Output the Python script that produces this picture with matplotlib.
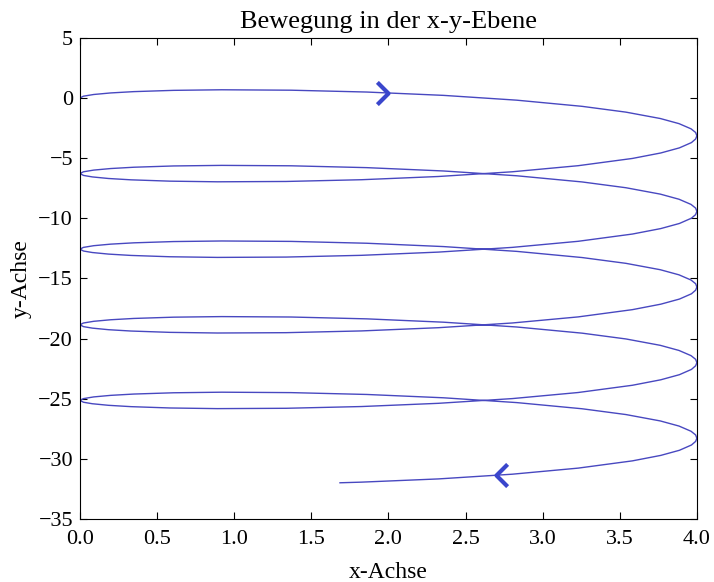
import matplotlib
matplotlib.use("Agg")
from matplotlib import pyplot as plt
from matplotlib.path import Path

# x values of one loop (same for every loop)
x_loop = [0.000, 0.022, 0.089, 0.199, 0.349, 0.607, 0.919, 1.369, 1.859, 2.357,
          2.832, 3.256, 3.540, 3.763, 3.884, 3.962, 3.992, 4.000, 3.992, 3.965,
          3.887, 3.766, 3.582, 3.230, 2.803, 2.324, 1.825, 1.336, 0.891, 0.583,
          0.331, 0.185, 0.080, 0.023]

y_loop1 = [0.000, 0.149, 0.291, 0.420, 0.529, 0.635, 0.683, 0.648, 0.495, 0.218,
           -0.181, -0.694, -1.175, -1.706, -2.130, -2.561, -2.867, -3.142, -3.407, -3.705,
           -4.144, -4.569, -5.024, -5.627, -6.132, -6.524, -6.792, -6.937, -6.965, -6.911,
           -6.801, -6.690, -6.559, -6.435]
y_loop2 = [-6.283, -6.134, -5.992, -5.863, -5.754, -5.648, -5.600, -5.635, -5.788, -6.065,
           -6.464, -6.977, -7.458, -7.989, -8.413, -8.844, -9.150, -9.425, -9.690, -9.988,
           -10.427, -10.852, -11.307, -11.910, -12.415, -12.807, -13.075, -13.220, -13.248, -13.194,
           -13.084, -12.973, -12.842, -12.718]
y_loop3 = [-12.566, -12.417, -12.275, -12.146, -12.037, -11.931, -11.883, -11.918, -12.071, -12.348,
           -12.747, -13.260, -13.741, -14.272, -14.696, -15.127, -15.433, -15.708, -15.973, -16.271,
           -16.710, -17.135, -17.590, -18.193, -18.698, -19.090, -19.358, -19.503, -19.531, -19.477,
           -19.367, -19.256, -19.125, -19.001]
y_loop4 = [-18.850, -18.701, -18.559, -18.430, -18.321, -18.215, -18.167, -18.202, -18.355, -18.632,
           -19.031, -19.544, -20.025, -20.556, -20.980, -21.411, -21.717, -21.992, -22.257, -22.555,
           -22.994, -23.419, -23.874, -24.477, -24.982, -25.374, -25.642, -25.787, -25.815, -25.761,
           -25.651, -25.540, -25.409, -25.285]
# last, unfinished loop
x_last = [0.000, 0.022, 0.089, 0.199, 0.349, 0.607, 0.919, 1.369, 1.859, 2.357,
          2.832, 3.256, 3.540, 3.763, 3.884, 3.962, 3.992, 4.000, 3.992, 3.965,
          3.887, 3.766, 3.582, 3.230, 2.803, 2.324, 1.825, 1.686]
y_last = [-25.133, -24.984, -24.842, -24.713, -24.604, -24.498, -24.450, -24.485, -24.638, -24.915,
          -25.314, -25.827, -26.308, -26.839, -27.263, -27.694, -28.000, -28.275, -28.540, -28.838,
          -29.277, -29.702, -30.157, -30.760, -31.265, -31.657, -31.925, -31.978]

# direction markers
arrow_right = (2.0, 0.38)
arrow_left = (2.70, -31.30)

x = x_loop * 4 + x_last
y = y_loop1 + y_loop2 + y_loop3 + y_loop4 + y_last

plt.rcParams['font.family'] = ['Liberation Serif', 'DejaVu Serif']
plt.rcParams['xtick.direction'] = 'in'
plt.rcParams['ytick.direction'] = 'in'

fig = plt.figure(figsize=(7.14, 5.82), dpi=100)
ax = fig.add_axes([0.112, 0.108, 0.864, 0.827])

ax.plot(x, y, color='#4848c0', lw=1.0)

chev_r = Path([(-1, 1), (0, 0), (-1, -1)], [Path.MOVETO, Path.LINETO, Path.LINETO])
chev_l = Path([(1, 1), (0, 0), (1, -1)], [Path.MOVETO, Path.LINETO, Path.LINETO])
ax.plot(*arrow_right, marker=chev_r, markersize=16, mfc='none', mec='#3a46cc', mew=3)
ax.plot(*arrow_left, marker=chev_l, markersize=16, mfc='none', mec='#3a46cc', mew=3)

ax.set_xlim(0, 4)
ax.set_ylim(-35, 5)
ax.set_xticks([0.0, 0.5, 1.0, 1.5, 2.0, 2.5, 3.0, 3.5, 4.0])
ax.set_yticks(range(-35, 6, 5))
ax.tick_params(top=True, right=True, length=5, labelsize=16)
ax.tick_params(axis='x', pad=8)
ax.tick_params(axis='y', pad=5)
ax.xaxis.set_major_formatter(matplotlib.ticker.FormatStrFormatter('%.1f'))

ax.set_title('Bewegung in der x-y-Ebene', fontsize=19, pad=7)
ax.set_xlabel('x-Achse', fontsize=17, labelpad=9)
ax.set_ylabel('y-Achse', fontsize=17, labelpad=5)

fig.savefig('out.png', dpi=100)
